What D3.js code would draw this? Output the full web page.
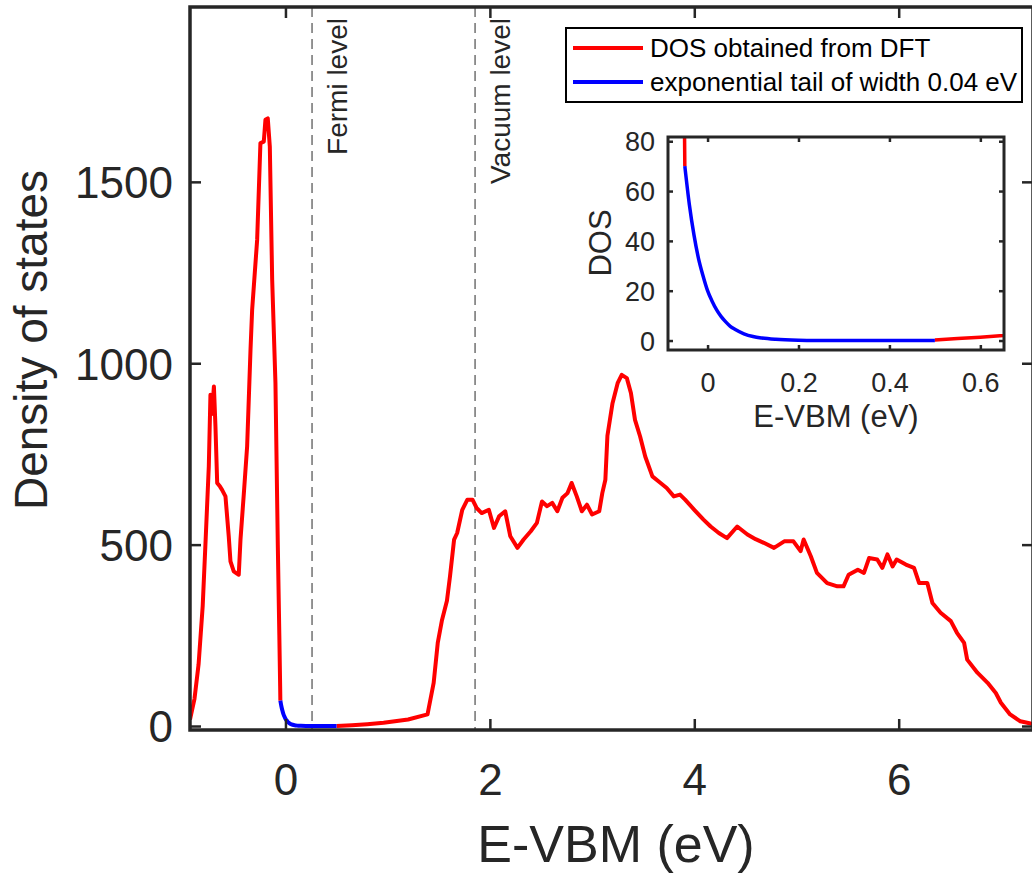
<!DOCTYPE html>
<html>
<head>
<meta charset="utf-8">
<script src="https://cdn.jsdelivr.net/npm/d3@7"></script>
<style>
  html, body { margin: 0; padding: 0; background: #fff; }
  svg { display: block; font-family: Arial, "Liberation Sans", Helvetica, sans-serif; }
</style>
</head>
<body>
<svg id="chart" width="1032" height="874"></svg>
<script>
// ---------------- data ----------------
// DFT DOS below the tail (valence band region)
const dftLeftE   = [-0.934, -0.89, -0.85, -0.81, -0.78, -0.75, -0.734, -0.72, -0.70, -0.685, -0.668, -0.64, -0.62, -0.587, -0.555, -0.538, -0.506, -0.475, -0.457, -0.44, -0.408, -0.375, -0.342, -0.326, -0.30, -0.277, -0.245, -0.212, -0.196, -0.173, -0.153, -0.13, -0.098, -0.075, -0.06, -0.052, -0.05];
const dftLeftDOS = [18, 75, 170, 330, 520, 716, 913, 860, 936, 826, 670, 660, 651, 633, 523, 454, 426, 420, 417, 514, 638, 771, 1037, 1147, 1250, 1340, 1607, 1611, 1671, 1675, 1597, 1230, 946, 500, 250, 110, 70];

// exponential tail (width 0.04 eV)
const tailE   = [-0.05, -0.04, -0.03, -0.02, -0.01, 0.0, 0.01, 0.02, 0.03, 0.04, 0.05, 0.06, 0.08, 0.10, 0.12, 0.15, 0.20, 0.25, 0.30, 0.40, 0.50];
const tailDOS = [70, 54.5, 42.5, 33, 26, 20, 15.8, 12.3, 9.6, 7.5, 5.7, 4.5, 2.7, 1.6, 1.0, 0.5, 0.15, 0.05, 0.02, 0.0, 0.0];

// DFT DOS above the tail
const dftRightE   = [0.5, 0.55, 0.6, 0.65, 0.8, 0.96, 1.2, 1.39, 1.45, 1.49, 1.53, 1.58, 1.61, 1.65, 1.68, 1.73, 1.78, 1.83, 1.87, 1.92, 1.99, 2.04, 2.09, 2.15, 2.20, 2.27, 2.33, 2.40, 2.46, 2.51, 2.56, 2.61, 2.66, 2.71, 2.76, 2.80, 2.85, 2.90, 2.95, 3.00, 3.07, 3.10, 3.13, 3.15, 3.20, 3.25, 3.29, 3.34, 3.38, 3.42, 3.47, 3.52, 3.59, 3.67, 3.73, 3.80, 3.86, 3.91, 4.00, 4.09, 4.16, 4.24, 4.32, 4.42, 4.52, 4.60, 4.68, 4.78, 4.88, 4.97, 5.04, 5.07, 5.14, 5.20, 5.30, 5.40, 5.46, 5.51, 5.60, 5.66, 5.71, 5.79, 5.84, 5.89, 5.94, 5.98, 6.07, 6.15, 6.20, 6.28, 6.33, 6.41, 6.51, 6.57, 6.64, 6.67, 6.77, 6.87, 6.95, 7.00, 7.09, 7.19, 7.29, 7.31];
const dftRightDOS = [0.2, 0.8, 1.3, 2.0, 5, 9, 18, 32, 119, 229, 290, 345, 413, 514, 532, 596, 624, 624, 601, 587, 596, 546, 578, 592, 523, 491, 514, 537, 560, 619, 606, 615, 592, 629, 642, 670, 633, 592, 610, 583, 592, 642, 679, 800, 890, 945, 968, 959, 918, 844, 798, 743, 688, 670, 656, 633, 638, 624, 596, 569, 550, 532, 518, 550, 528, 515, 505, 491, 509, 509, 482, 514, 468, 422, 394, 385, 385, 417, 431, 422, 463, 459, 436, 473, 440, 459, 445, 436, 394, 394, 339, 312, 289, 257, 229, 183, 147, 119, 91, 64, 32, 13, 7, 6];

// reference levels
const levelNames  = ["Fermi level", "Vacuum level"];
const levelValues = [0.26, 1.855];

// ticks
const xTicks = [0, 2, 4, 6];
const yTicks = [0, 500, 1000, 1500];
const insetXTicks = [0, 0.2, 0.4, 0.6];
const insetYTicks = [0, 20, 40, 60, 80];

const legendLabels = ["DOS obtained from DFT", "exponential tail of width 0.04 eV"];
const seriesColors = ["#ff0000", "#0000ff"];

// ---------------- drawing ----------------
const svg = d3.select("#chart");
const axisColor = "#262626";

const M = { left: 190, right: 1033, top: 7, bottom: 730 };
const x = d3.scaleLinear().domain([-0.934, 7.314]).range([M.left, M.right]);
const y = d3.scaleLinear().domain([-11, 1982]).range([M.bottom, M.top]);

const toPts = (E, D) => E.map((e, i) => [e, D[i]]);
const leftPts = toPts(dftLeftE, dftLeftDOS);
const tailPts = toPts(tailE, tailDOS);
const rightPts = toPts(dftRightE, dftRightDOS);

svg.append("defs").append("clipPath").attr("id", "mainClip")
  .append("rect").attr("x", M.left).attr("y", M.top)
  .attr("width", M.right - M.left).attr("height", M.bottom - M.top);

// dashed level lines
const gLev = svg.append("g");
levelValues.forEach((v, i) => {
  gLev.append("line")
    .attr("x1", x(v)).attr("x2", x(v))
    .attr("y1", M.top).attr("y2", M.bottom)
    .attr("stroke", "#4d4d4d").attr("stroke-width", 1.2)
    .attr("stroke-dasharray", "10,6");
  gLev.append("text")
    .attr("transform", `translate(${x(v) + 34.5},18) rotate(-90)`)
    .attr("text-anchor", "end")
    .attr("font-size", 28)
    .attr("fill", axisColor)
    .text(levelNames[i]);
});

// curves
const line = d3.line().x(d => x(d[0])).y(d => y(d[1]));
const gCurves = svg.append("g").attr("clip-path", "url(#mainClip)");
gCurves.append("path").datum(leftPts).attr("d", line)
  .attr("fill", "none").attr("stroke", seriesColors[0]).attr("stroke-width", 4).attr("stroke-linejoin", "round");
gCurves.append("path").datum(rightPts).attr("d", line)
  .attr("fill", "none").attr("stroke", seriesColors[0]).attr("stroke-width", 4).attr("stroke-linejoin", "round");
gCurves.append("path").datum(tailPts).attr("d", d3.line().x(d => x(d[0])).y(d => y(d[1])).curve(d3.curveMonotoneX))
  .attr("fill", "none").attr("stroke", seriesColors[1]).attr("stroke-width", 4);

// axes
function styleAxis(g) {
  g.select(".domain").remove();
  g.selectAll(".tick line").attr("stroke", axisColor).attr("stroke-width", 3);
  g.selectAll(".tick text").attr("fill", axisColor).attr("font-family", "Arial, 'Liberation Sans', sans-serif");
}
svg.append("g").attr("transform", `translate(0,${M.bottom})`)
  .call(d3.axisBottom(x).tickValues(xTicks).tickSize(-11).tickPadding(34).tickFormat(d3.format("d")))
  .call(styleAxis).call(g => g.selectAll(".tick text").attr("font-size", 44));
svg.append("g").attr("transform", `translate(0,${M.top})`)
  .call(d3.axisTop(x).tickValues(xTicks).tickSize(-11).tickFormat(""))
  .call(styleAxis);
svg.append("g").attr("transform", `translate(${M.left},0)`)
  .call(d3.axisLeft(y).tickValues(yTicks).tickSize(-11).tickPadding(17).tickFormat(d3.format("d")))
  .call(styleAxis).call(g => g.selectAll(".tick text").attr("font-size", 44).attr("dy", "0.36em"));
svg.append("g").attr("transform", `translate(${M.right},0)`)
  .call(d3.axisRight(y).tickValues(yTicks).tickSize(-11).tickFormat(""))
  .call(styleAxis);

svg.append("rect")
  .attr("x", M.left).attr("y", M.top)
  .attr("width", M.right - M.left).attr("height", M.bottom - M.top)
  .attr("fill", "none").attr("stroke", axisColor).attr("stroke-width", 3.5);

// axis labels
svg.append("text")
  .attr("x", 616).attr("y", 862)
  .attr("text-anchor", "middle").attr("font-size", 52).attr("fill", axisColor)
  .text("E-VBM (eV)");
svg.append("text")
  .attr("transform", "translate(47,340) rotate(-90)")
  .attr("text-anchor", "middle").attr("font-size", 46).attr("fill", axisColor)
  .text("Density of states");

// ---------------- legend ----------------
const L = { x: 566, y: 28, w: 456, h: 74 };
const gLeg = svg.append("g");
gLeg.append("rect").attr("x", L.x).attr("y", L.y).attr("width", L.w).attr("height", L.h)
  .attr("fill", "#fff").attr("stroke", "#000").attr("stroke-width", 2);
legendLabels.forEach((lab, i) => {
  const yy = 48 + i * 34;
  gLeg.append("line").attr("x1", 573).attr("x2", 643).attr("y1", yy).attr("y2", yy)
    .attr("stroke", seriesColors[i]).attr("stroke-width", 4);
  gLeg.append("text").attr("x", 650).attr("y", yy).attr("dy", "0.35em")
    .attr("font-size", 26).attr("fill", "#000").text(lab);
});

// ---------------- inset ----------------
const I = { left: 668, right: 1004, top: 137, bottom: 350 };
const xi = d3.scaleLinear().domain([-0.087, 0.652]).range([I.left, I.right]);
const yi = d3.scaleLinear().domain([-3.8, 81.7]).range([I.bottom, I.top]);

svg.select("defs").append("clipPath").attr("id", "insetClip")
  .append("rect").attr("x", I.left).attr("y", I.top)
  .attr("width", I.right - I.left).attr("height", I.bottom - I.top);

svg.append("rect").attr("x", I.left).attr("y", I.top)
  .attr("width", I.right - I.left).attr("height", I.bottom - I.top).attr("fill", "#fff");

const lineI = d3.line().x(d => xi(d[0])).y(d => yi(d[1]));
const gI = svg.append("g").attr("clip-path", "url(#insetClip)");
gI.append("path").datum(leftPts).attr("d", lineI)
  .attr("fill", "none").attr("stroke", seriesColors[0]).attr("stroke-width", 3.5);
gI.append("path").datum(rightPts).attr("d", lineI)
  .attr("fill", "none").attr("stroke", seriesColors[0]).attr("stroke-width", 3.5);
gI.append("path").datum(tailPts).attr("d", d3.line().x(d => xi(d[0])).y(d => yi(d[1])).curve(d3.curveMonotoneX))
  .attr("fill", "none").attr("stroke", seriesColors[1]).attr("stroke-width", 3.5);

svg.append("g").attr("transform", `translate(0,${I.bottom})`)
  .call(d3.axisBottom(xi).tickValues(insetXTicks).tickSize(-5).tickPadding(23).tickFormat(d => d === 0 ? "0" : d3.format(".1f")(d)))
  .call(styleAxis).call(g => g.selectAll(".tick text").attr("font-size", 27));
svg.append("g").attr("transform", `translate(0,${I.top})`)
  .call(d3.axisTop(xi).tickValues(insetXTicks).tickSize(-5).tickFormat(""))
  .call(styleAxis);
svg.append("g").attr("transform", `translate(${I.left},0)`)
  .call(d3.axisLeft(yi).tickValues(insetYTicks).tickSize(-5).tickPadding(13).tickFormat(d3.format("d")))
  .call(styleAxis).call(g => g.selectAll(".tick text").attr("font-size", 27).attr("dy", "0.36em"));
svg.append("g").attr("transform", `translate(${I.right},0)`)
  .call(d3.axisRight(yi).tickValues(insetYTicks).tickSize(-5).tickFormat(""))
  .call(styleAxis);
svg.selectAll(".tick line").attr("stroke-width", 2.5);

svg.append("rect").attr("x", I.left).attr("y", I.top)
  .attr("width", I.right - I.left).attr("height", I.bottom - I.top)
  .attr("fill", "none").attr("stroke", axisColor).attr("stroke-width", 3);

svg.append("text").attr("x", 836).attr("y", 427)
  .attr("text-anchor", "middle").attr("font-size", 31).attr("fill", axisColor)
  .text("E-VBM (eV)");
svg.append("text").attr("transform", "translate(611,243) rotate(-90)")
  .attr("text-anchor", "middle").attr("font-size", 31).attr("fill", axisColor)
  .text("DOS");
</script>
</body>
</html>
